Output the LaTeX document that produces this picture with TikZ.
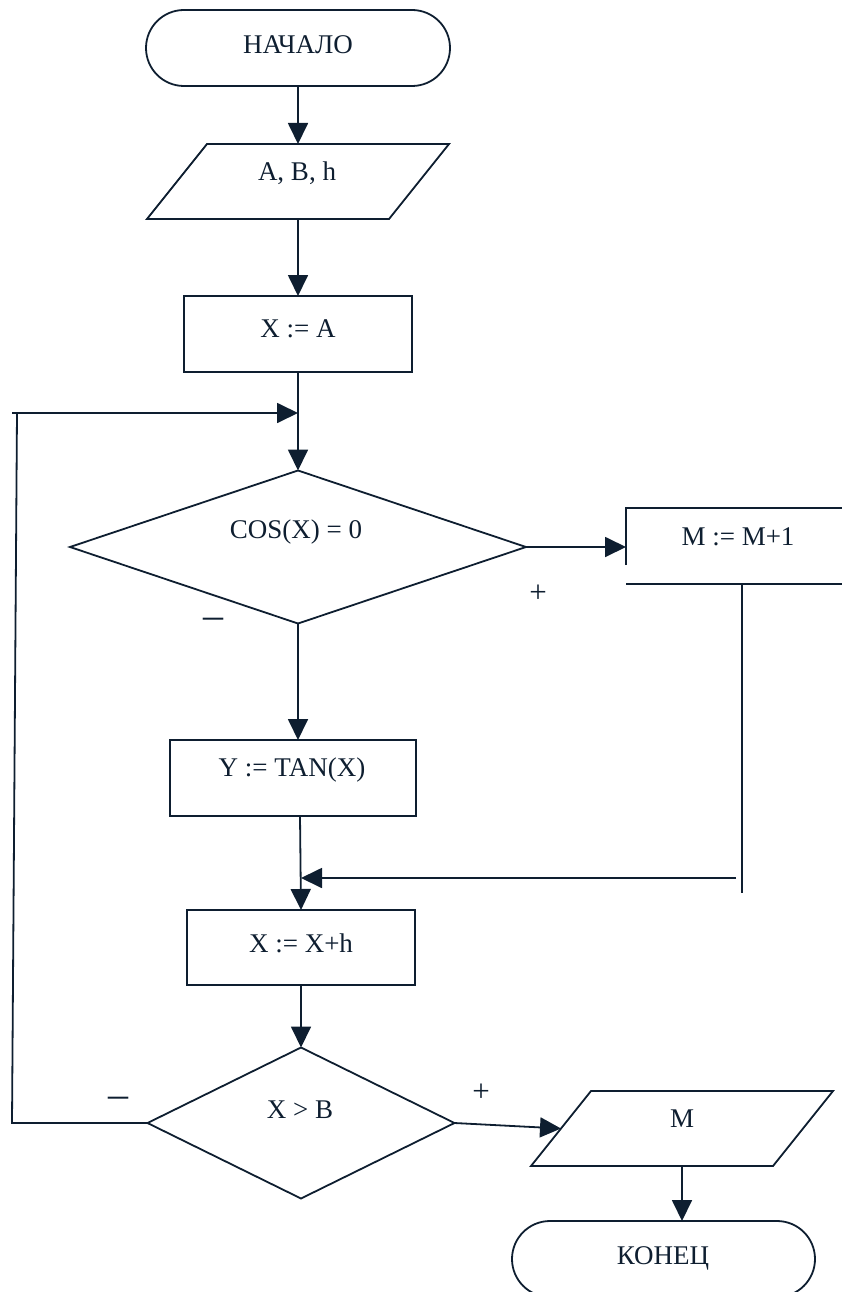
\documentclass[tikz,border=0pt]{standalone}
\usepackage{fontspec}
\setmainfont{Liberation Serif}
\usetikzlibrary{shapes.geometric,arrows.meta,calc}
\definecolor{ink}{RGB}{14,30,48}
\begin{document}
\begin{tikzpicture}[x=1pt,y=-1pt,
  line width=1.8pt, color=ink, line join=miter,
  every node/.style={inner sep=0pt, outer sep=0pt},
  txt/.style={text=ink, font=\fontsize{27}{30}\selectfont},
  plus/.style={text=ink, font=\fontsize{31}{34}\selectfont},
  minus/.style={text=ink, font=\fontsize{40}{44}\selectfont},
  term/.style={draw=ink, rectangle, rounded corners=38pt, minimum width=#1, minimum height=76pt},
  proc/.style={draw=ink, rectangle},
  frame/.style={rectangle, minimum width=302pt, minimum height=75pt},
  cond/.style={draw=ink, diamond},
  arr/.style={-{Triangle[length=21pt,width=20pt]}}
]
\useasboundingbox (0,0) rectangle (842,1292);

% blocks
\node[term=304pt] (start) at (298,48) {};
\node[frame] (inp) at (298,181.5) {};
\draw ($(inp.north west)+(60,0)$) -- (inp.north east) -- ($(inp.south east)+(-60,0)$)
      -- (inp.south west) -- cycle;
\node[proc, minimum width=228pt, minimum height=76pt] (xa) at (298,334) {};
\node[cond, minimum width=456pt, minimum height=153pt] (cos) at (298,547) {};
\node[minimum width=234pt, minimum height=76pt] (mbox) at (743,546) {};
\draw ($(mbox.north west)+(0,57)$) -- (mbox.north west) -- (mbox.north east)
      -- (mbox.south east) -- (mbox.south west);
\node[proc, minimum width=246pt, minimum height=76pt] (tan) at (293,778) {};
\node[proc, minimum width=228pt, minimum height=75pt] (xh) at (301,947.5) {};
\node[cond, minimum width=307pt, minimum height=151pt] (xb) at (301,1123) {};
\node[frame] (out) at (682,1128.5) {};
\draw ($(out.north west)+(60,0)$) -- (out.north east) -- ($(out.south east)+(-60,0)$)
      -- (out.south west) -- cycle;
\node[term=303pt] (end) at (663.5,1259) {};

% texts
\node[txt] (t-start) at (298,45) {НАЧАЛО};
\node[txt] (t-inp) at (297,173) {A, B, h};
\node[txt] (t-xa) at (298,329) {X := A};
\node[txt] (t-cos) at (296,532) {COS(X) = 0};
\node[txt] (t-m) at (738,537) {M := M+1};
\node[txt] (t-tan) at (292,770) {Y := TAN(X)};
\node[txt] (t-xh) at (301,943) {X := X+h};
\node[txt] (t-xb) at (300,1110) {X > B};
\node[txt] (t-out) at (682,1119) {M};
\node[txt] (t-end) at (663,1258) {КОНЕЦ};

% branch signs
\node[plus] (s-cosyes) at (538,594) {+};
\node[minus] (s-cosno) at (213,623) {–};
\node[minus] (s-xbno) at (118,1102) {–};
\node[plus] (s-xbyes) at (481,1093) {+};

% helper points of the loops
\coordinate (lj) at (298,413);
\coordinate (ltick) at (12,413);
\coordinate (lt) at (17,413);
\coordinate (lb) at (12,1123);
\coordinate (rtop) at (742,584);
\coordinate (rbot) at (742,893);
\coordinate (rj) at (736,878);
\coordinate (mj) at (301,878);
\coordinate (tanout) at (300,816);
\coordinate (outin) at ($(out.west)+(30,0)$);

% connectors
\draw[arr] (start.south) -- (inp.north);
\draw[arr] (inp.south) -- (xa.north);
\draw[arr] (xa.south) -- (xa.south |- cos.north);
\draw[arr] (cos.east) -- (cos.east -| mbox.west);
\draw[arr] (cos.south) -- (cos.south |- tan.north);
\draw (rtop) -- (rbot);
\draw[arr] (rj) -- (mj);
\draw[arr] (tanout) -- (xh.north);
\draw[arr] (xh.south) -- (xh.south |- xb.north);
\draw (xb.west) -- (lb) -- (lt);
\draw[arr] (ltick) -- (lj);
\draw[arr] (xb.east) -- (outin);
\draw[arr] (out.south) -- (out.south |- end.north);
\end{tikzpicture}
\end{document}
